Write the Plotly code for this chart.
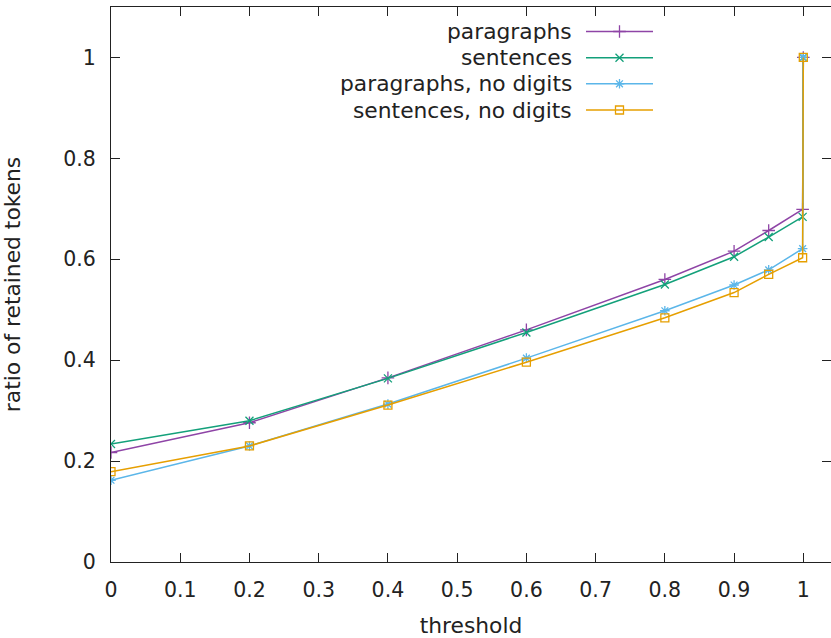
import plotly.graph_objects as go

thresholds = [0.0, 0.2, 0.4, 0.6, 0.8, 0.9, 0.95, 0.999, 1.0]
paragraphs = [0.217, 0.276, 0.365, 0.460, 0.560, 0.616, 0.657, 0.699, 1.0]
sentences = [0.234, 0.280, 0.364, 0.455, 0.550, 0.605, 0.644, 0.684, 1.0]
paragraphs_nd = [0.162, 0.230, 0.313, 0.404, 0.498, 0.549, 0.579, 0.621, 1.0]
sentences_nd = [0.179, 0.230, 0.311, 0.396, 0.484, 0.534, 0.570, 0.603, 1.0]

series_names = ["paragraphs", "sentences", "paragraphs, no digits", "sentences, no digits"]
series_values = [paragraphs, sentences, paragraphs_nd, sentences_nd]
colors = ["#8E44A6", "#13A07A", "#5BB6E9", "#E69F00"]
symbols = ["cross-thin-open", "x-thin-open", "asterisk-open", "square-open"]
sizes = [9, 8, 8, 8]

x_ticks = [0, 0.1, 0.2, 0.3, 0.4, 0.5, 0.6, 0.7, 0.8, 0.9, 1]
y_ticks = [0, 0.2, 0.4, 0.6, 0.8, 1]

FONT = "DejaVu Sans"
TXT = "#222222"
TICK_SIZE = 20.5
TEXT_SIZE = 21.8

fig = go.Figure()
for name, vals, c, s, sz in zip(series_names, series_values, colors, symbols, sizes):
    fig.add_trace(go.Scatter(
        x=thresholds, y=vals, mode="lines+markers", name=name,
        line=dict(color=c, width=1.5),
        marker=dict(symbol=s, size=sz, color=c, line=dict(color=c, width=1.3)),
        showlegend=False,
    ))

# custom gnuplot-style key (text left, sample right) in pixel-like overlay axes
legend_rows = [31.5, 57.7, 83.8, 110.0]
for name, c, s, sz, yy in zip(series_names, colors, symbols, sizes, legend_rows):
    fig.add_annotation(x=574, y=yy, xref="x2", yref="y2", text=name, showarrow=False,
                       xanchor="right", yanchor="middle",
                       font=dict(family=FONT, size=TEXT_SIZE, color=TXT))
    fig.add_trace(go.Scatter(
        x=[586, 653], y=[yy, yy], xaxis="x2", yaxis="y2", mode="lines",
        line=dict(color=c, width=1.5), showlegend=False, hoverinfo="skip"))
    fig.add_trace(go.Scatter(
        x=[619.5], y=[yy], xaxis="x2", yaxis="y2", mode="markers",
        marker=dict(symbol=s, size=sz, color=c, line=dict(color=c, width=1.3)),
        showlegend=False, hoverinfo="skip"))

axis_common = dict(
    showgrid=False, zeroline=False, showline=True, linecolor="#222222", linewidth=1,
    mirror="ticks", ticks="inside", ticklen=9, tickcolor="#222222", tickwidth=1,
    tickfont=dict(family=FONT, size=TICK_SIZE, color=TXT),
)

fig.update_layout(
    width=831, height=638,
    margin=dict(l=111, r=0, t=7, b=76),
    paper_bgcolor="white", plot_bgcolor="white",
    xaxis=dict(range=[0, 1.04], tickvals=x_ticks, ticktext=[str(v) for v in x_ticks],
               title=dict(text="threshold", font=dict(family=FONT, size=TEXT_SIZE, color=TXT), standoff=22),
               ticklabelstandoff=9, **axis_common),
    yaxis=dict(range=[0, 1.1], tickvals=y_ticks, ticktext=[("%g" % v) for v in y_ticks],
               title=dict(text="ratio of retained tokens", font=dict(family=FONT, size=TEXT_SIZE, color=TXT), standoff=36),
               ticklabelstandoff=10, **axis_common),
    xaxis2=dict(range=[111, 831], overlaying="x", anchor="y2", visible=False, fixedrange=True),
    yaxis2=dict(range=[562, 7], overlaying="y", anchor="x2", visible=False, fixedrange=True),
)

fig.write_html("out.html")
